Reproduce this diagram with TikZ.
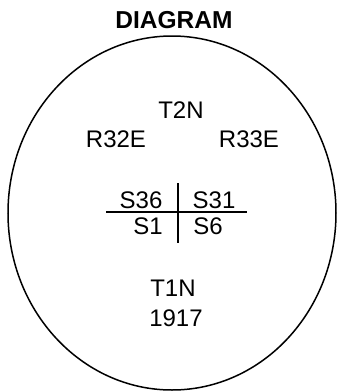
\documentclass[tikz,border=0pt]{standalone}
\usepackage{fontspec}
\setmainfont{Liberation Sans}
\usepackage{tikz}
\usetikzlibrary{shapes}

\begin{document}
\begin{tikzpicture}[x=1pt, y=-1pt,
   lbl/.style={inner sep=0pt, font=\fontsize{24}{24}\selectfont}]
\useasboundingbox (0,0) rectangle (338,392);

\node[inner sep=0pt, font=\bfseries\fontsize{24.5}{24.5}\selectfont] (title) at (174,20) {DIAGRAM};

\draw[line width=1.5pt] (172,213) ellipse [x radius=164, y radius=177];

\node[lbl] (T2N) at (181,110) {T2N};
\node[lbl] (R32E) at (116,139) {R32E};
\node[lbl] (R33E) at (249,139) {R33E};

\node[lbl] (S36) at (141,200) {S36};
\node[lbl] (S31) at (214,200) {S31};
\node[lbl] (S1) at (148,226) {S1};
\node[lbl] (S6) at (208,226) {S6};

\coordinate (west) at (106,212);
\coordinate (east) at (247,212);
\coordinate (north) at (178,183);
\coordinate (south) at (178,243);
\draw[line width=1.6pt] (west) -- (east);
\draw[line width=1.6pt] (north) -- (south);

\node[lbl] (T1N) at (173,288) {T1N};
\node[lbl] (year) at (176,318) {1917};
\end{tikzpicture}
\end{document}
